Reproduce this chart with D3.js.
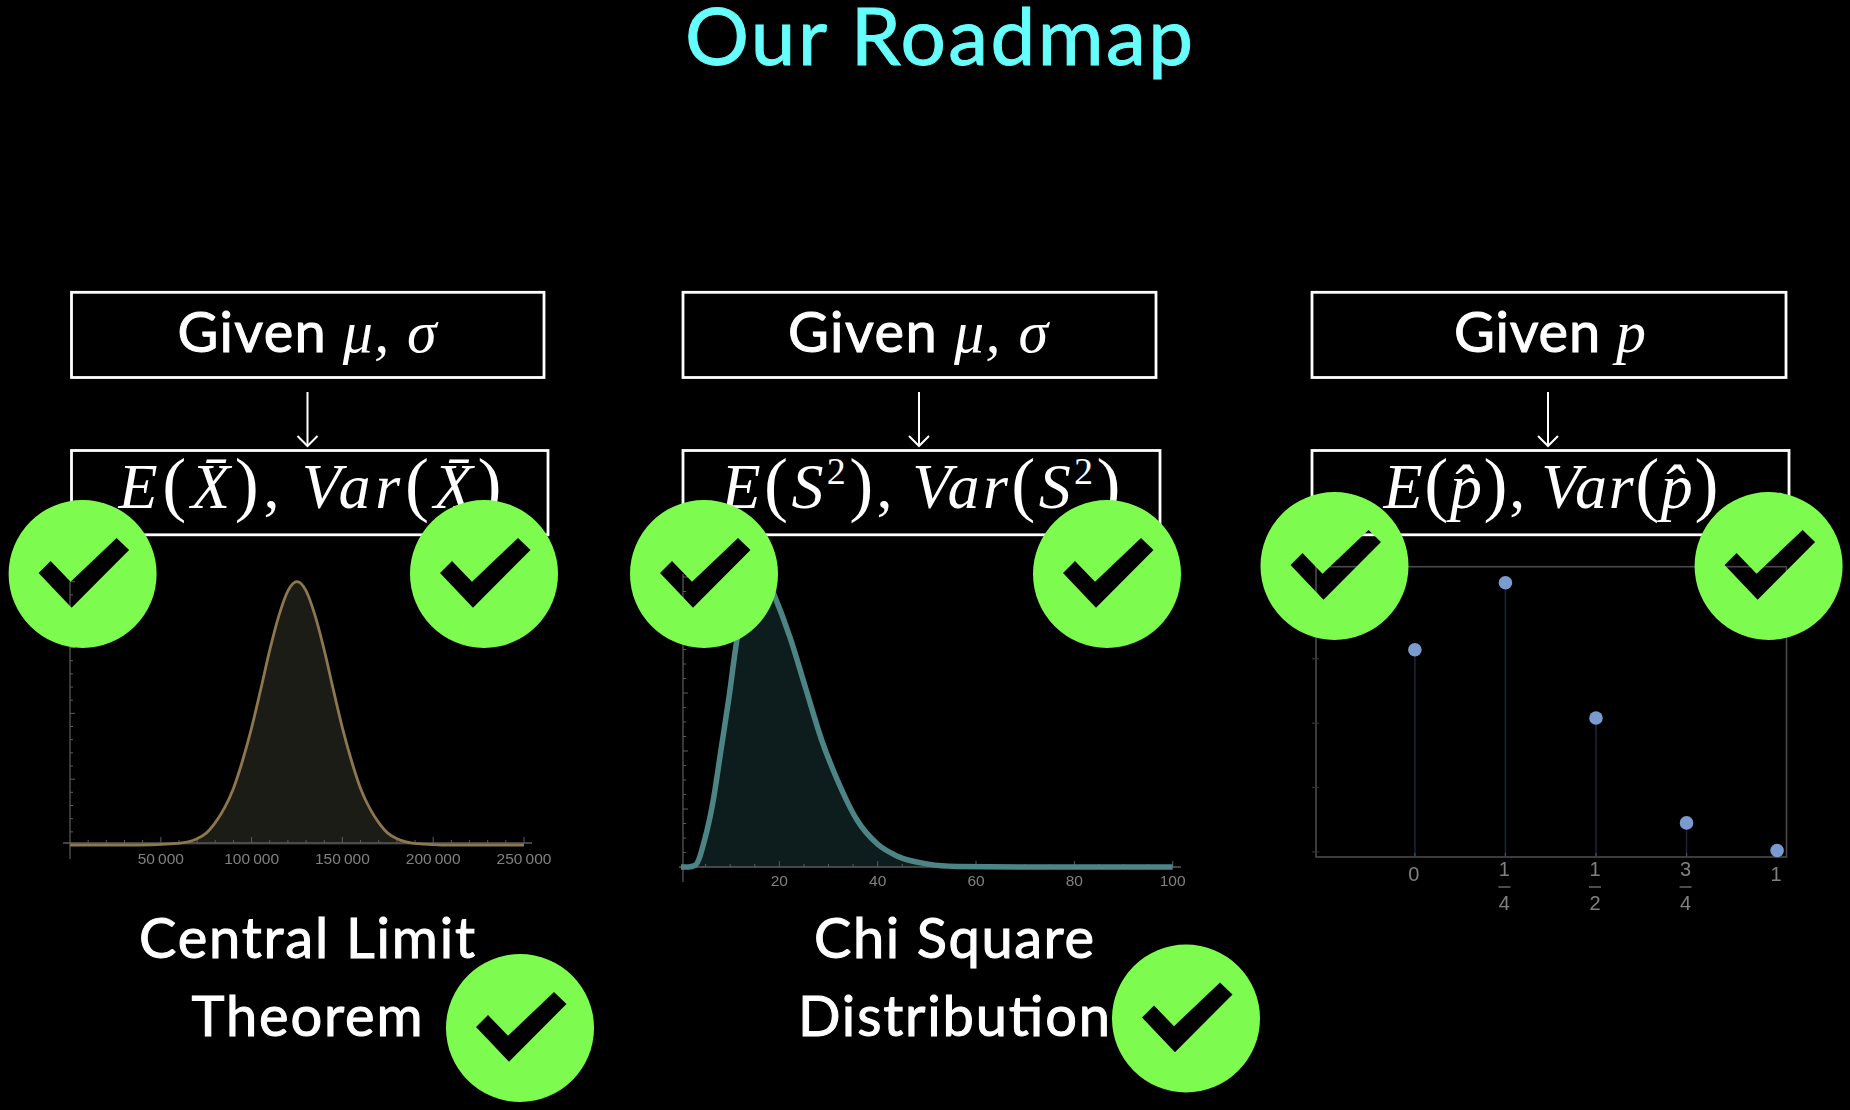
<!DOCTYPE html>
<html>
<head>
<meta charset="utf-8">
<script src="https://cdn.jsdelivr.net/npm/d3@7"></script>
<style>
  html, body { margin: 0; background: #000; }
  svg { display: block; }
  .hand { font-family: "Lato", sans-serif; fill: #fff; stroke: #fff; stroke-width: 1px; }
  .math { font-family: "Liberation Serif", serif; fill: #fff; }
  .tick-label { font-family: "Liberation Sans", sans-serif; fill: #808080; }
</style>
</head>
<body>
<script>
var titleText = "Our Roadmap";

// top boxes and the formula boxes below them
var givenSymbols = ["μ, σ", "μ, σ", "p"];
var formulaArgs = ["X\u0304", "S", "p\u0302"];
var captions = [["Central Limit", "Theorem"], ["Chi Square", "Distribution"]];

// normal curve, left chart (y is relative to the peak)
var cltX = [0, 30000, 45000, 55000, 65000, 70000, 75000, 80000, 85000, 90000, 95000, 100000, 105000, 110000, 115000, 120000, 125000, 130000, 135000, 140000, 145000, 150000, 155000, 160000, 165000, 170000, 175000, 180000, 185000, 195000, 205000, 250000];
var cltY = [0, 0, 0.001, 0.004, 0.012, 0.024, 0.045, 0.085, 0.14, 0.215, 0.32, 0.445, 0.59, 0.74, 0.87, 0.965, 1, 0.965, 0.87, 0.74, 0.59, 0.445, 0.32, 0.215, 0.14, 0.085, 0.045, 0.024, 0.012, 0.003, 0, 0];
var cltTicks = [50000, 100000, 150000, 200000, 250000];

// chi square curve, middle chart
var chiX = [0, 1.5, 2.9, 4.9, 6.5, 8.1, 9.8, 11.3, 13, 15, 16.5, 18.9, 22.2, 25.4, 28.6, 31.8, 35.8, 39.9, 43.9, 50.3, 56, 70, 100];
var chiY = [0, 0, 0.0003, 0.005, 0.0112, 0.02, 0.0295, 0.0388, 0.046, 0.0505, 0.0515, 0.047, 0.0395, 0.0307, 0.0219, 0.015, 0.0081, 0.004, 0.0019, 0.0005, 0.0001, 0, 0];
var chiTicks = [20, 40, 60, 80, 100];

// sample proportion, right chart
var propX = [0, 0.25, 0.5, 0.75, 1];
var propY = [0.314, 0.418, 0.208, 0.045, 0.002];
var propLabels = [["0"], ["1", "4"], ["1", "2"], ["3", "4"], ["1"]];

var width = 1850, height = 1110;
var svg = d3.select("body").append("svg").attr("width", width).attr("height", height);

svg.append("rect").attr("width", width).attr("height", height).attr("fill", "#000");

var soft = svg.append("defs").append("filter").attr("id", "soft");
soft.append("feGaussianBlur").attr("stdDeviation", 0.55);

/*********************** Title and boxes *********************/
svg.append("text")
  .attr("class", "hand")
  .attr("x", 939).attr("y", 65)
  .attr("text-anchor", "middle")
  .attr("font-size", 80)
  .attr("textLength", 508)
  .style("fill", "#66fdfd").style("stroke", "#66fdfd")
  .text(titleText);

var columns = [
  { box: 71.5, boxW: 472.5, boxW2: 476.5, arrow: 307.5, given: 307, givenW: 259, formula: 310, formulaW: 383 },
  { box: 683, boxW: 473, boxW2: 477, arrow: 919, given: 918, givenW: 260, formula: 921, formulaW: 399 },
  { box: 1312, boxW: 474, boxW2: 477, arrow: 1548, given: 1550, givenW: 192, formula: 1551, formulaW: 335 }
];

columns.forEach(function(c, i) {
  svg.append("rect").attr("x", c.box).attr("y", 292.3).attr("width", c.boxW).attr("height", 85.2)
    .attr("fill", "none").attr("stroke", "#fff").attr("stroke-width", 2.8);
  svg.append("rect").attr("x", c.box).attr("y", 450.5).attr("width", c.boxW2).attr("height", 84.3)
    .attr("fill", "none").attr("stroke", "#fff").attr("stroke-width", 2.8);

  svg.append("path")
    .attr("d", d3.line()([[c.arrow, 392], [c.arrow, 446]]))
    .attr("stroke", "#fff").attr("stroke-width", 2).attr("fill", "none");
  svg.append("path")
    .attr("d", d3.line()([[c.arrow - 10, 436], [c.arrow, 446], [c.arrow + 10, 436]]))
    .attr("stroke", "#fff").attr("stroke-width", 2).attr("fill", "none");

  var given = svg.append("text")
    .attr("x", c.given).attr("y", 352)
    .attr("text-anchor", "middle")
    .attr("textLength", c.givenW);
  given.append("tspan").attr("class", "hand").attr("font-size", 56).text("Given ");
  given.append("tspan").attr("class", "math").attr("font-size", 60).attr("font-style", "italic").text(givenSymbols[i]);

  var f = svg.append("text")
    .attr("class", "math")
    .attr("x", c.formula).attr("y", 508)
    .attr("text-anchor", "middle")
    .attr("font-size", 64)
    .attr("textLength", c.formulaW);
  function arg() {
    f.append("tspan").attr("font-size", 72).text("(");
    f.append("tspan").attr("font-style", "italic").text(formulaArgs[i]);
    if (i === 1) f.append("tspan").attr("font-size", 38).attr("dy", -24).text("2");
    f.append("tspan").attr("font-size", 72).attr("dy", i === 1 ? 24 : 0).text(")");
  }
  f.append("tspan").attr("font-style", "italic").text("E");
  arg();
  f.append("tspan").text(",\u2009");
  f.append("tspan").attr("font-style", "italic").text("Var");
  arg();
});

/*********************** Left chart *********************/
var chart1 = svg.append("g").attr("filter", "url(#soft)");
var x1 = d3.scaleLinear().domain([0, 250000]).range([70, 524]);
var y1 = d3.scaleLinear().domain([0, 1]).range([845, 581.7]);
var cltData = cltX.map(function(d, i) { return { x: d, y: cltY[i] }; });

chart1.append("path").datum(cltData)
  .attr("fill", "#1f1a14")
  .attr("d", d3.area().curve(d3.curveMonotoneX).x(function(d) { return x1(d.x); }).y0(y1(0)).y1(function(d) { return y1(d.y); }));

drawXTicks(chart1, x1, 843, d3.range(10000, 250001, 10000), cltTicks);
drawYTicks(chart1, y1, 70, d3.range(0.05, 1.01, 0.05), d3.range(0.25, 1.01, 0.25), 859, 581.7);
chart1.append("path").attr("d", d3.line()([[63, 843], [532, 843]])).attr("stroke", "#5c5c5c").attr("stroke-width", 1.5);

chart1.append("path").datum(cltData)
  .attr("fill", "none").attr("stroke", "#8c7750").attr("stroke-width", 2.8)
  .attr("d", d3.line().curve(d3.curveMonotoneX).x(function(d) { return x1(d.x); }).y(function(d) { return y1(d.y); }));

chart1.selectAll(".clt-label").data(cltTicks).enter().append("text")
  .attr("class", "tick-label")
  .attr("x", function(d) { return x1(d); })
  .attr("y", 864)
  .attr("text-anchor", "middle")
  .attr("font-size", 15.5)
  .text(function(d) { return d3.format(",")(d).replace(",", "\u2009"); });

/*********************** Middle chart *********************/
var chart2 = svg.append("g").attr("filter", "url(#soft)");
var x2 = d3.scaleLinear().domain([0, 100]).range([681, 1172.7]);
var y2 = d3.scaleLinear().domain([0, 0.06]).range([867, 519]);
var chiData = chiX.map(function(d, i) { return { x: d, y: chiY[i] }; });

chart2.append("path").datum(chiData)
  .attr("fill", "#101c1c")
  .attr("d", d3.area().curve(d3.curveMonotoneX).x(function(d) { return x2(d.x); }).y0(y2(0)).y1(function(d) { return y2(d.y); }));

drawXTicks(chart2, x2, 867, d3.range(5, 100.1, 5), chiTicks);
drawYTicks(chart2, y2, 683, d3.range(0.0025, 0.0526, 0.0025), d3.range(0.01, 0.051, 0.01), 882, 574);
chart2.append("path").attr("d", d3.line()([[679, 867], [1181, 867]])).attr("stroke", "#5c5c5c").attr("stroke-width", 1.5);

chart2.append("path").datum(chiData)
  .attr("fill", "none").attr("stroke", "#4e8587").attr("stroke-width", 5.5)
  .attr("d", d3.line().curve(d3.curveMonotoneX).x(function(d) { return x2(d.x); }).y(function(d) { return y2(d.y); }));

chart2.selectAll(".chi-label").data(chiTicks).enter().append("text")
  .attr("class", "tick-label")
  .attr("x", function(d) { return x2(d); })
  .attr("y", 886)
  .attr("text-anchor", "middle")
  .attr("font-size", 15.5)
  .text(function(d) { return d; });

/*********************** Right chart *********************/
var chart3 = svg.append("g").attr("filter", "url(#soft)");
var x3 = d3.scaleLinear().domain([-0.273, 1.026]).range([1316, 1786.5]);
var y3 = d3.scaleLinear().domain([-0.008, 0.443]).range([857, 566.7]);

chart3.append("rect")
  .attr("x", x3.range()[0]).attr("y", y3.range()[1])
  .attr("width", x3.range()[1] - x3.range()[0]).attr("height", y3.range()[0] - y3.range()[1])
  .attr("fill", "none").attr("stroke", "#4a4a4a").attr("stroke-width", 1.6);

chart3.selectAll(".y-tick").data([0, 0.1, 0.2, 0.3]).enter().append("path")
  .attr("d", function(d) { return d3.line()([[x3.range()[0] - 4, y3(d)], [x3.range()[0] + 3, y3(d)]]); })
  .attr("stroke", "#333").attr("stroke-width", 1.2);

chart3.selectAll(".stem").data(propX).enter().append("path")
  .attr("d", function(d, i) { return d3.line()([[x3(d), y3.range()[0]], [x3(d), y3(propY[i])]]); })
  .attr("stroke", "#1b2433").attr("stroke-width", 1.6);

chart3.selectAll(".x-tick").data(propX).enter().append("path")
  .attr("d", function(d) { return d3.line()([[x3(d), y3.range()[0]], [x3(d), y3.range()[0] - 4]]); })
  .attr("stroke", "#4a4a4a").attr("stroke-width", 1.2);

chart3.selectAll(".dot").data(propX).enter().append("circle")
  .attr("cx", function(d) { return x3(d); })
  .attr("cy", function(d, i) { return y3(propY[i]); })
  .attr("r", 6.8)
  .attr("fill", "#7a9bd0");

propLabels.forEach(function(lab, i) {
  var lx = x3(propX[i]) - 1;
  if (lab.length === 1) {
    chart3.append("text").attr("class", "tick-label").attr("x", lx).attr("y", 881)
      .attr("text-anchor", "middle").attr("font-size", 20).text(lab[0]);
  } else {
    chart3.append("text").attr("class", "tick-label").attr("x", lx).attr("y", 876)
      .attr("text-anchor", "middle").attr("font-size", 20).text(lab[0]);
    chart3.append("text").attr("class", "tick-label").attr("x", lx).attr("y", 910)
      .attr("text-anchor", "middle").attr("font-size", 20).text(lab[1]);
    chart3.append("path").attr("d", d3.line()([[lx - 6, 887], [lx + 6, 887]]))
      .attr("stroke", "#808080").attr("stroke-width", 1.2);
  }
});

/*********************** Captions *********************/
var captionX = [307, 954];
var captionW = [[336, 231], [280, 312]];
captions.forEach(function(lines, i) {
  lines.forEach(function(line, j) {
    svg.append("text")
      .attr("class", "hand")
      .attr("x", captionX[i]).attr("y", j === 0 ? 958 : 1036)
      .attr("text-anchor", "middle")
      .attr("font-size", 56)
      .attr("textLength", captionW[i][j])
      .text(line);
  });
});

/*********************** Check marks *********************/
// the tick is a hole in the green disc, what is underneath shows through
var checkShape = [[-44, -1], [-11, 33.7], [46.5, -24], [34, -36], [-12, 7.7], [-32, -13]];
var checkSpots = [[82.6, 574], [484, 574], [704, 574], [1107, 574], [1334.5, 566], [1768.6, 566], [520, 1028], [1186, 1018.5]];

svg.selectAll(".check").data(checkSpots).enter().append("path")
  .attr("class", "check")
  .attr("transform", function(d) { return "translate(" + d[0] + "," + d[1] + ")"; })
  .attr("fill", "#7dfc4f")
  .attr("fill-rule", "evenodd")
  .attr("d", "M-74,0A74,74 0 1,1 74,0A74,74 0 1,1 -74,0Z" + d3.line()(checkShape) + "Z");

/************ Axis helpers **************************/
function drawXTicks(g, x, yPos, minor, major) {
  g.selectAll(null).data(minor).enter().append("path")
    .attr("d", function(d) {
      var len = major.indexOf(d) >= 0 ? 6 : 3;
      return d3.line()([[x(d), yPos], [x(d), yPos - len]]);
    })
    .attr("stroke", "#5c5c5c").attr("stroke-width", 1);
}

function drawYTicks(g, y, xPos, minor, major, from, to) {
  g.append("path").attr("d", d3.line()([[xPos, from], [xPos, to]])).attr("stroke", "#5c5c5c").attr("stroke-width", 1.2);
  g.selectAll(null).data(minor).enter().append("path")
    .attr("d", function(d) {
      var isMajor = major.some(function(m) { return Math.abs(m - d) < 1e-6; });
      return d3.line()([[xPos, y(d)], [xPos + (isMajor ? 5 : 3), y(d)]]);
    })
    .attr("stroke", "#5c5c5c").attr("stroke-width", 1);
}
</script>
</body>
</html>
